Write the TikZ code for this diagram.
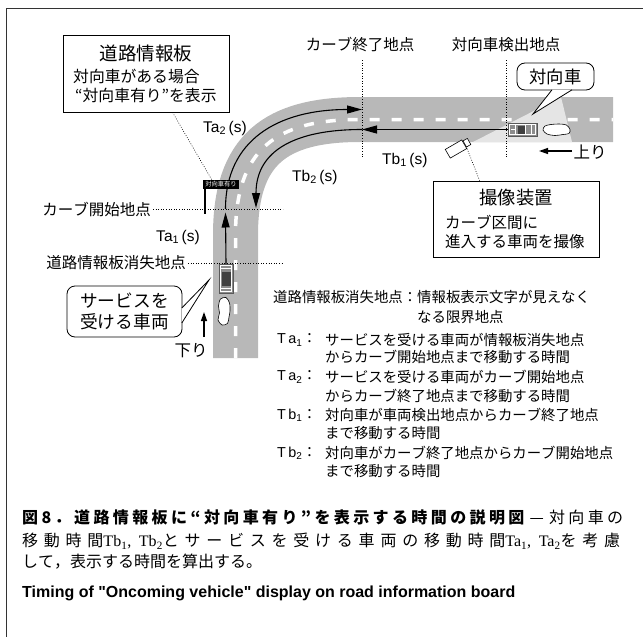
\documentclass[tikz,border=0pt]{standalone}
\usepackage{fontspec}
\setmainfont{Liberation Sans}
\newfontfamily\jp{Noto Sans CJK JP}
\newfontfamily\latinserif{Liberation Serif}
\newfontfamily\ensans{Liberation Sans}
\usetikzlibrary{arrows.meta,calc}
\newcommand\fsz[2]{\fontsize{#1}{#2}\selectfont}

% stretchable glue between Japanese characters, for justified caption lines
\XeTeXinterchartokenstate=1
\newcount\cjkc
\def\cjkclassrange#1#2{\cjkc=#1 \loop\XeTeXcharclass\cjkc=50 \advance\cjkc by 1 \ifnum\cjkc<#2 \repeat}
\cjkclassrange{"3000}{"3100}
\cjkclassrange{"4E00}{"A000}
\cjkclassrange{"FF00}{"FF60}
\XeTeXcharclass"2014=50 \XeTeXcharclass"201C=50 \XeTeXcharclass"201D=50
\XeTeXinterchartoks 50 50 = {\hskip 0pt plus 4pt\relax}
\XeTeXinterchartoks 50 0 = {\hskip 0pt plus 4pt\relax}
\XeTeXinterchartoks 0 50 = {\hskip 0pt plus 4pt\relax}

\begin{document}
\begin{tikzpicture}[
    x=1pt, y=-1pt,
    road/.style={draw=black!28, line width=45pt},
    lanemark/.style={draw=white, line width=3.5pt, dash pattern=on 10pt off 12pt},
    timearrow/.style={line width=1.1pt, -{Triangle[length=15pt,width=8pt]}},
    dirarrow/.style={line width=1.3pt, -{Triangle[length=9pt,width=6pt]}},
    pointline/.style={line width=0.7pt, dash pattern=on 0.8pt off 1.8pt},
    leader/.style={line width=0.6pt, dash pattern=on 0.8pt off 1.6pt},
    infobox/.style={draw, line width=0.8pt, fill=white, inner sep=0pt},
    bubble/.style={draw, line width=0.8pt, fill=white, rounded corners=8pt, inner sep=0pt},
    car/.style={draw=black!65, line width=0.5pt, fill=black!45, inner sep=0pt},
    exhaust/.style={draw, line width=0.6pt, fill=white},
    txt/.style={inner sep=0pt, font=\jp\fsz{15.5}{18}},
    tlbl/.style={inner sep=0pt, font=\fsz{15.5}{18}},
    defn/.style={inner sep=0pt, anchor=west, font=\jp\fsz{14.4}{17}},
]
    \useasboundingbox (0,0) rectangle (643,637);
    \draw[line width=0.9pt, black!80] (6,637) -- (6,8) -- (643,8);

    % road with centre line and camera field
    \draw[road] (235.5,358) -- (235.5,235) .. controls (235.5,150) and (275,119.5) .. (360,119.5) -- (613,119.5);
    \draw[lanemark] (235.5,358) -- (235.5,235) .. controls (235.5,150) and (275,119.5) .. (360,119.5) -- (613,119.5);
    \fill[black!10] (473,142) -- (561,97) -- (572,142) -- cycle;

    % vehicles
    \node[car, minimum width=14pt, minimum height=29pt] (svcCar) at (226,278.5) {};
    \fill[black!75] ($(svcCar.center)+(-4.5,-7)$) rectangle ($(svcCar.center)+(4.5,7)$);
    \draw[white, line width=0.7pt] ($(svcCar.south west)+(1.5,-1.5)$) rectangle ($(svcCar.north east)+(-1.5,1.5)$);
    \draw[white, line width=0.7pt] ($(svcCar.north west)+(1.5,5)$) -- ($(svcCar.north east)+(-1.5,5)$);
    \draw[white, line width=0.7pt] ($(svcCar.south west)+(1.5,-5)$) -- ($(svcCar.south east)+(-1.5,-5)$);
    \draw[exhaust] plot[smooth cycle] coordinates {(230,311) (229.5,303) (226,297.5) (220.5,299) (218.5,306) (219.5,313) (218,320) (222,325) (227.5,323.5) (229,317)};

    \node[car, minimum width=29pt, minimum height=13pt] (oncCar) at (522.5,129.5) {};
    \fill[black!75] ($(oncCar.center)+(-5,-4)$) rectangle ($(oncCar.center)+(2,4)$);
    \draw[white, line width=0.7pt] ($(oncCar.south west)+(1.5,-1.5)$) rectangle ($(oncCar.north east)+(-1.5,1.5)$);
    \foreach \dx in {-7,3,9}
        \draw[white, line width=0.8pt] ($(oncCar.center)+(\dx,-5)$) -- ++(0,10);
    \draw[white, line width=0.6pt] ($(oncCar.west)+(3,0)$) -- ++(4,0);
    \draw[exhaust] plot[smooth cycle] coordinates {(570,129.5) (566.5,125) (559,124) (551,124.5) (545,126) (543,130) (547,134) (555,135.5) (563,134.5) (569,133.5)};

    % travel times
    \coordinate (ta1End) at (225.5,212.5);
    \coordinate (curveIn) at (225.5,209);
    \coordinate (curveOut) at (362,109.5);
    \coordinate (tb1End) at (362,129.5);
    \coordinate (tb2End) at (256,208);
    \draw[timearrow] (svcCar.north) -- (ta1End);
    \draw[timearrow] (curveIn) .. controls (225.5,140) and (278,109.5) .. (curveOut);
    \draw[timearrow] (oncCar.west) -- (tb1End);
    \draw[timearrow] (tb1End) .. controls (296,129.5) and (256,150) .. (tb2End);

    \node[tlbl, anchor=east] (ta1Lbl) at (200,237) {Ta\textsubscript{1}\,(s)};
    \node[tlbl, anchor=west] (ta2Lbl) at (203,128) {Ta\textsubscript{2}\,(s)};
    \node[tlbl, anchor=west] (tb1Lbl) at (382,160) {Tb\textsubscript{1}\,(s)};
    \node[tlbl, anchor=west] (tb2Lbl) at (292,177) {Tb\textsubscript{2}\,(s)};

    % marker lines
    \node[txt, anchor=east] (startLbl) at (151,209) {カーブ開始地点};
    \coordinate (startEnd) at (283,209);
    \draw[pointline] ($(startLbl.east)+(2,0)$) -- (startEnd);
    \node[txt, anchor=east] (vanishLbl) at (186,263) {道路情報板消失地点};
    \coordinate (vanishEnd) at (283,263);
    \draw[pointline] ($(vanishLbl.east)+(2,0)$) -- (vanishEnd);
    \node[txt] (endLbl) at (360,45) {カーブ終了地点};
    \coordinate (endTop) at (362,60);
    \coordinate (endBot) at (362,157);
    \draw[pointline] (endTop) -- (endBot);
    \node[txt] (detLbl) at (506,45) {対向車検出地点};
    \coordinate (detTop) at (506,60);
    \coordinate (detBot) at (506,157);
    \draw[pointline] (detTop) -- (detBot);

    % road information board
    \node[infobox, minimum width=166pt, minimum height=77pt] (boardBox) at (146,73.5) {};
    \node[txt, font=\jp\fsz{18.5}{20}] (boardTitle) at (146,53) {道路情報板};
    \node[txt, anchor=west, font=\jp\fsz{15.8}{18}] (boardLineA) at (73,76) {対向車がある場合};
    \node[txt, anchor=west, font=\jp\fsz{15.8}{18}] (boardLineB) at (75,96) {“対向車有り”を表示};
    \node[fill=black, text=white, inner sep=0pt, minimum width=36pt, minimum height=9pt, font=\jp\fsz{6.3}{7}] (sign) at (221,184.5) {対向車有り};
    \draw[line width=1.6pt] ($(sign.south west)+(2,0)$) -- ($(sign.south west)+(2,25)$);
    \draw[leader] ($(boardBox.south west)+(110,0)$) -- ($(sign.north west)+(9,0)$);

    % camera
    \node[draw, fill=white, line width=0.6pt, minimum width=19pt, minimum height=10pt, inner sep=0pt, rotate=30] (camera) at (456,149) {};
    \node[draw, fill=white, line width=0.6pt, minimum width=5pt, minimum height=7pt, inner sep=0pt, rotate=30, anchor=west] (lens) at (camera.east) {};
    \node[infobox, minimum width=166pt, minimum height=76pt] (camBox) at (516,219) {};
    \node[txt, font=\jp\fsz{18.3}{20}] (camTitle) at (516,198) {撮像装置};
    \node[txt, anchor=west, font=\jp\fsz{15.5}{18}] (camLineA) at (445,222) {カーブ区間に};
    \node[txt, anchor=west, font=\jp\fsz{15.5}{18}] (camLineB) at (445,242) {進入する車両を撮像};
    \draw[leader] (camera.south east) -- ($(camBox.north west)+(47,0)$);

    % callouts
    \node[bubble, minimum width=77pt, minimum height=27pt, font=\jp\fsz{17.3}{20}] (oncBubble) at (555.5,76.5) {対向車};
    \coordinate (oncTip) at (533,114);
    \filldraw[fill=white, line width=0.8pt] ($(oncBubble.south)+(-3.5,-0.6)$) -- (oncTip) -- ($(oncBubble.south)+(16.5,-0.6)$);
    \node[bubble, minimum width=115pt, minimum height=51pt, align=left, font=\jp\fsz{17.7}{21}] (svcBubble) at (124.5,311.5) {サービスを\\受ける車両};
    \coordinate (svcTip) at (209,280);
    \filldraw[fill=white, line width=0.8pt] ($(svcBubble.east)+(-0.6,-3.5)$) -- (svcTip) -- ($(svcBubble.east)+(-0.6,11.5)$);

    % directions
    \node[txt, font=\jp\fsz{16.5}{18}] (downLbl) at (191,351) {下り};
    \coordinate (downTail) at (204,337);
    \coordinate (downHead) at (204,312);
    \draw[dirarrow] (downTail) -- (downHead);
    \node[txt, font=\jp\fsz{16.5}{18}] (upLbl) at (590,152) {上り};
    \coordinate (upTail) at (572,151);
    \coordinate (upHead) at (539,151);
    \draw[dirarrow] (upTail) -- (upHead);

    % definitions
    \node[defn] (defV) at (273,297) {道路情報板消失地点：情報板表示文字が見えなく};
    \node[defn] (defV2) at (417,317) {なる限界地点};
    \node[defn] (keyA1) at (277,340) {{\ensans T\,a\textsubscript{1}}：};
    \node[defn] (defA1) at (325,340) {サービスを受ける車両が情報板消失地点};
    \node[defn] (defA1b) at (325,357) {からカーブ開始地点まで移動する時間};
    \node[defn] (keyA2) at (277,377) {{\ensans T\,a\textsubscript{2}}：};
    \node[defn] (defA2) at (325,377) {サービスを受ける車両がカーブ開始地点};
    \node[defn] (defA2b) at (325,396) {からカーブ終了地点まで移動する時間};
    \node[defn] (keyB1) at (277,415) {{\ensans T\,b\textsubscript{1}}：};
    \node[defn] (defB1) at (325,415) {対向車が車両検出地点からカーブ終了地点};
    \node[defn] (defB1b) at (325,433) {まで移動する時間};
    \node[defn] (keyB2) at (277,453) {{\ensans T\,b\textsubscript{2}}：};
    \node[defn] (defB2) at (325,453) {対向車がカーブ終了地点からカーブ開始地点};
    \node[defn] (defB2b) at (325,471) {まで移動する時間};

    % caption
    \node[inner sep=0pt, anchor=west] (capA) at (22,517) {\makebox[601pt][s]{\jp\fsz{16}{18}{\bfseries 図8．道路情報板に“対向車有り”を表示する時間の説明図}\ — 対向車の}};
    \node[inner sep=0pt, anchor=west] (capB) at (22,541) {\makebox[598pt][s]{\jp\fsz{16}{18}移動時間{\latinserif Tb\textsubscript{1}, Tb\textsubscript{2}}とサービスを受ける車両の移動時間{\latinserif Ta\textsubscript{1}, Ta\textsubscript{2}}を考慮}};
    \node[inner sep=0pt, anchor=west, font=\jp\fsz{16}{18}] (capC) at (22,562) {して，表示する時間を算出する。};
    \node[inner sep=0pt, anchor=west, font=\ensans\fsz{16}{18}\bfseries] (capEn) at (22,593) {Timing of "Oncoming vehicle" display on road information board};
\end{tikzpicture}
\end{document}
